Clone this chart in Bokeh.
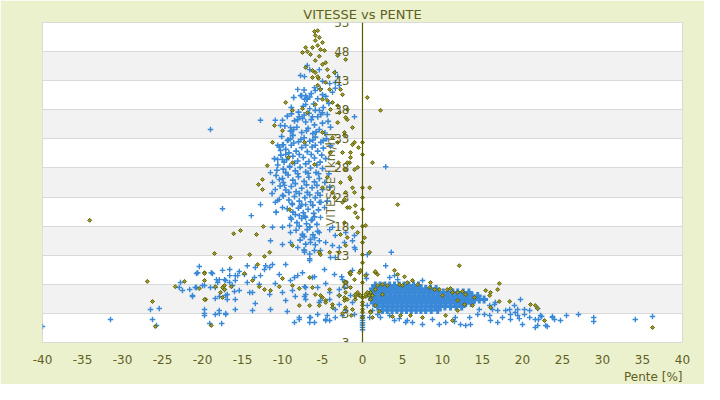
import math
from bokeh.plotting import figure
from bokeh.models import Range1d, FixedTicker, Label, Title
from bokeh.embed import file_html
from bokeh.resources import INLINE

# ---------------- data (Pente [%], Vitesse [km/h]) ----------------
x_ticks = [-40, -35, -30, -25, -20, -15, -10, -5, 0, 5, 10, 15, 20, 25, 30, 35, 40]
y_ticks = [-2, 3, 8, 13, 18, 23, 28, 33, 38, 43, 48, 53]
y_tick_labels = ["3", "3", "8", "13", "18", "23", "28", "33", "38", "43", "48", "53"]

# blue series, scattered points
blue_sparse = [
    (-6.9, 45.6), (-6.6, 44.9), (-7.75, 43.9), (-7.25, 43.7), (-5.4, 44.9), (-3.4, 44.4),
    (-3.1, 43.7), (-3.4, 42.7), (-5.0, 42.9), (-6.0, 41.8), (-5.9, 41.3), (-4.1, 42.5),
    (-3.75, 41.0), (-8.1, 41.5), (-7.75, 40.45), (-7.25, 39.8), (-7.1, 38.9), (-6.6, 38.2),
    (-5.4, 37.9), (-5.0, 37.5), (-6.25, 36.8), (-1.0, 36.8), (-10.0, 36.2), (-7.5, 36.5),
    (-3.4, 41.7), (-2.9, 42.2), (-7.1, 40.45), (-6.9, 39.8),
    (-12.75, 36.2), (-19.0, 34.6), (-10.9, 36.2), (-10.25, 35.3), (-9.0, 34.95), (-8.9, 34.4),
    (-8.75, 33.6), (-9.4, 32.7), (-10.0, 32.0), (-10.6, 31.9), (-10.25, 31.0), (-9.6, 30.3),
    (-10.0, 29.45), (-10.6, 29.45), (-9.1, 28.1), (-9.6, 27.2), (-10.4, 26.0), (-11.25, 25.5),
    (-11.5, 27.2), (-9.75, 25.0), (-10.9, 24.3), (-10.0, 23.3), (-10.6, 22.4),
    (-17.5, 21.0), (-13.9, 19.8), (-12.75, 21.7), (-10.4, 22.6), (-10.9, 22.1), (-10.0, 21.2),
    (-8.75, 21.7), (-7.75, 21.4), (-7.1, 21.7), (-6.25, 21.55), (-5.4, 22.1), (-4.75, 21.2),
    (-9.0, 19.5), (-7.9, 19.8), (-7.1, 19.5), (-6.25, 19.1), (-5.25, 19.5), (-11.25, 17.8),
    (-10.0, 17.8), (-9.1, 18.1), (-9.0, 16.9), (-7.5, 16.4), (-6.6, 17.8), (-5.4, 16.9),
    (-4.1, 17.4), (-3.75, 17.8), (-3.4, 16.4), (-2.1, 16.9), (-1.0, 16.4), (-11.5, 15.5),
    (-10.0, 14.85), (-9.0, 15.2), (-8.1, 14.33), (-7.25, 13.8), (-6.5, 15.2), (-5.4, 15.5),
    (-4.6, 15.2), (-3.75, 14.67), (-2.9, 14.33), (-2.25, 15.2), (-1.25, 15.5), (-1.0, 14.33),
    (-7.25, 13.5), (-6.6, 12.1), (-5.25, 13.8), (-4.0, 12.6), (-3.4, 12.6), (-0.9, 14.0),
    (-20.4, 11.06), (-18.9, 10.0), (-20.6, 10.0), (-17.5, 10.4), (-16.6, 10.55), (-15.4, 10.2),
    (-14.4, 11.2), (-13.4, 10.9), (-12.25, 10.55), (-11.6, 10.9), (-11.25, 11.4), (-12.1, 11.2),
    (-9.6, 11.4), (-16.6, 9.5), (-15.6, 9.5), (-14.75, 9.7), (-13.5, 9.17), (-12.75, 9.5),
    (-10.4, 9.7), (-8.1, 9.5), (-6.25, 9.17), (-4.75, 10.55), (-3.5, 9.7), (-2.5, 8.8),
    (-17.9, 8.8), (-17.1, 8.66), (-15.9, 8.66), (-14.4, 8.3), (-12.9, 8.0), (-10.9, 8.14),
    (-9.0, 8.66), (-7.25, 7.6), (-5.6, 7.45), (-22.75, 8.3), (-21.6, 7.1), (-20.9, 7.45),
    (-19.75, 7.8), (-18.4, 7.45), (-17.25, 7.1), (-16.0, 6.77), (-15.4, 6.94), (-13.75, 6.6),
    (-11.6, 6.25), (-10.0, 6.6), (-8.75, 6.94), (-7.1, 6.25), (-4.1, 6.6), (-2.9, 7.1),
    (-21.25, 5.9), (-18.4, 5.56), (-17.1, 6.08), (-15.9, 5.39), (-14.1, 6.6), (-13.4, 4.7),
    (-9.6, 5.22), (-8.4, 5.9), (-7.1, 5.39), (-5.4, 4.88), (-4.1, 5.39), (-2.9, 4.53),
    (-19.75, 3.67), (-19.75, 3.0), (-17.9, 3.0), (-15.9, 3.67), (-13.75, 3.5), (-11.5, 3.67),
    (-9.4, 3.33), (-7.9, 2.3), (-6.6, 2.3), (-4.6, 1.95), (-3.4, 2.3), (-17.1, 2.8), (-18.4, 2.8),
    (-40.0, 0.75), (-31.5, 1.95), (-26.5, 3.67), (-25.4, 3.84), (-26.25, 1.95), (-25.75, 0.92),
    (-22.9, 7.45), (-22.5, 6.94), (-21.25, 6.08), (-20.75, 7.45), (-20.0, 7.8), (-19.0, 7.45),
    (-18.75, 9.86), (-20.75, 9.86), (-18.25, 8.8), (-18.1, 8.3), (-17.25, 8.8), (-16.6, 8.3),
    (-16.25, 7.8), (-15.9, 9.5), (-17.9, 5.9), (-16.9, 6.25), (-16.9, 5.39), (-17.1, 3.0),
    (-17.9, 3.5), (-19.75, 2.64), (-19.1, 1.27), (-17.6, 1.27),
    (-6.6, 12.4), (-7.5, 10.0), (-6.0, 9.3), (-4.6, 8.14), (-2.6, 9.3), (-1.25, 10.4),
    (-8.5, 9.17), (-7.1, 7.45), (-7.25, 5.9), (-5.25, 5.22), (-2.25, 7.45), (-1.5, 6.08),
    (-1.25, 4.88), (-3.4, 3.67), (-4.4, 2.64), (-5.6, 2.8), (-6.5, 2.3), (-7.9, 1.95),
    (-8.5, 1.44), (-6.6, 1.44), (-6.0, 1.44), (-4.6, 1.78), (-4.1, 1.78), (-2.5, 2.64),
    (-2.1, 3.5), (-1.0, 2.8), (0.9, 2.3), (0.5, 9.7), (0.5, 9.0), (-2.9, 6.08),
    (0.0, 0.2), (0.0, 0.6), (0.0, 1.0), (0.0, 1.4), (0.0, 1.8), (0.0, 2.2), (0.0, 2.6),
    (2.9, 28.2),
    (0.6, 13.1), (3.6, 13.5), (2.9, 11.2), (3.4, 9.17), (4.0, 9.5), (4.4, 8.8), (7.5, 8.66),
    (0.6, 4.36), (1.25, 3.5), (1.9, 2.8), (2.25, 2.3), (3.4, 2.64), (4.0, 1.78), (4.6, 2.1),
    (5.4, 1.44), (6.25, 1.44), (5.6, 1.78), (7.5, 1.1), (8.75, 1.95), (9.6, 1.1), (10.4, 1.44),
    (11.5, 1.6), (12.25, 1.1), (12.9, 0.92), (13.5, 1.1), (11.6, 2.3), (13.4, 2.3), (14.1, 5.22),
    (14.4, 2.8), (14.6, 3.67), (15.25, 2.8), (15.9, 2.64), (16.25, 3.67), (15.9, 4.36),
    (16.5, 4.53), (16.6, 4.88), (16.9, 3.5), (17.5, 2.3), (17.9, 3.5), (18.4, 3.67), (18.5, 2.8),
    (19.0, 4.36), (19.4, 3.67), (19.75, 5.39), (20.25, 3.67), (20.9, 3.5), (21.6, 1.95),
    (22.25, 2.64), (23.75, 2.3), (24.0, 1.95), (24.75, 1.78), (20.0, 1.1), (21.6, 0.58),
    (22.9, 0.92), (16.0, 1.78), (16.9, 1.44), (18.5, 1.95), (19.1, 3.16), (20.25, 2.8),
    (19.4, 2.64), (19.6, 2.1), (20.9, 2.3), (21.9, 3.84), (22.0, 1.95), (22.4, 2.47),
    (21.9, 0.92), (23.1, 0.75), (23.75, 2.47), (25.5, 2.64), (27.0, 2.8), (28.9, 2.3),
    (28.9, 1.6), (34.1, 1.95), (36.25, 2.47), (42.9, 0.58),
]

# blue series, dense core of the downhill cloud
blue_core = [
    (-7.3, 41.4), (-6.4, 40.8), (-5.3, 41.6), (-4.6, 40.3), (-8.6, 40.1), (-7.0, 39.9),
    (-6.1, 39.0), (-5.6, 39.9), (-4.2, 39.1), (-8.9, 38.4), (-8.0, 37.6), (-7.4, 38.6),
    (-6.7, 37.4), (-5.9, 37.9), (-4.9, 38.4), (-4.4, 37.2),
    (-9.4, 36.9), (-8.5, 36.1), (-7.9, 36.8), (-7.1, 35.9), (-6.4, 36.3), (-5.6, 36.8),
    (-5.0, 35.7), (-4.3, 36.0),
    (-9.7, 35.2), (-9.0, 34.3), (-8.2, 35.0), (-7.6, 34.1), (-6.8, 34.8), (-6.2, 33.9),
    (-5.4, 34.6), (-4.7, 34.0),
    (-10.1, 33.4), (-9.3, 32.8), (-8.7, 33.6), (-8.0, 32.5), (-7.3, 33.2), (-6.6, 32.6),
    (-5.9, 33.3), (-5.2, 32.4), (-4.5, 33.0),
    (-10.4, 31.6), (-9.6, 31.2), (-8.9, 31.9), (-8.3, 30.9), (-7.6, 31.5), (-6.9, 30.8),
    (-6.3, 31.6), (-5.6, 30.9), (-4.9, 31.4),
    (-10.2, 30.2), (-9.5, 29.4), (-8.7, 30.0), (-8.1, 29.2), (-7.4, 29.8), (-6.7, 29.1),
    (-6.0, 29.7), (-5.3, 29.0), (-4.6, 29.6),
    (-10.6, 28.5), (-9.9, 27.8), (-9.1, 28.3), (-8.4, 27.5), (-7.8, 28.1), (-7.1, 27.3),
    (-6.5, 28.0), (-5.8, 27.2), (-5.0, 27.9),
    (-10.8, 26.7), (-10.0, 26.2), (-9.3, 26.8), (-8.7, 25.9), (-8.0, 26.5), (-7.3, 25.7),
    (-6.7, 26.4), (-6.0, 25.6), (-5.4, 26.2), (-4.7, 25.5),
    (-10.3, 24.9), (-9.6, 24.2), (-8.9, 24.8), (-8.3, 23.9), (-7.6, 24.5), (-6.9, 23.8),
    (-6.3, 24.6), (-5.6, 23.7), (-5.0, 24.3),
    (-9.9, 23.2), (-9.2, 22.5), (-8.5, 23.1), (-7.9, 22.3), (-7.2, 22.9), (-6.5, 22.2),
    (-5.9, 22.9), (-5.2, 22.1),
    (-9.4, 21.0), (-8.7, 20.4), (-8.0, 21.1), (-7.4, 20.3), (-6.8, 20.9), (-6.1, 20.2),
    (-5.5, 20.8),
    (-8.9, 19.2), (-8.2, 18.6), (-7.6, 19.3), (-7.0, 18.4), (-6.4, 19.0), (-5.7, 18.3),
    (-8.3, 17.3), (-7.5, 16.6), (-6.9, 17.4), (-6.2, 16.5), (-5.6, 17.1),
    (-7.8, 15.6), (-7.1, 14.9), (-6.5, 15.7), (-5.9, 14.8),
    (-7.3, 13.9), (-6.6, 13.2), (-6.0, 13.8),
    (-8.1, 36.3), (-6.0, 35.4), (-7.3, 37.1), (-5.2, 37.2), (-8.6, 34.6), (-7.0, 34.4),
    (-5.8, 34.2), (-9.0, 33.0), (-7.7, 32.9), (-6.2, 32.8), (-4.9, 32.7), (-9.9, 32.0),
    (-8.6, 32.3), (-7.1, 31.9), (-5.9, 31.9), (-9.2, 30.6), (-7.9, 30.3), (-6.4, 30.3),
    (-5.1, 30.2), (-9.8, 29.0), (-8.5, 28.8), (-7.1, 28.7), (-5.7, 28.5), (-9.6, 27.2),
    (-8.1, 27.0), (-6.8, 27.1), (-5.5, 27.0), (-9.9, 25.5), (-8.4, 25.3), (-7.0, 25.1),
    (-5.7, 25.0), (-9.2, 23.8), (-7.9, 23.6), (-6.6, 23.4), (-5.3, 23.3), (-8.8, 21.9),
    (-7.6, 21.7), (-6.2, 21.6), (-8.4, 20.0), (-7.2, 19.7), (-6.0, 19.6), (-7.9, 18.0),
    (-6.6, 17.9), (-7.3, 16.2), (-6.0, 16.0), (-8.9, 37.3), (-7.6, 40.4), (-6.6, 40.2),
    (-5.0, 40.6), (-10.7, 27.6), (-11.0, 29.6), (-11.3, 23.6), (-10.8, 20.4), (-4.2, 27.0),
    (-4.0, 31.8), (-4.1, 24.7), (-4.4, 22.3), (-4.0, 35.0),
]

# blue series, dense uphill blob (rows: speed, list of slopes)
blue_blob_rows = [
    (7.8, [1.6, 2.2, 2.8, 3.4, 4.0, 4.6, 5.2, 5.8, 6.4, 7.0]),
    (7.2, [1.3, 1.9, 2.5, 3.1, 3.7, 4.3, 4.9, 5.5, 6.1, 6.7, 7.3, 7.9, 8.5, 9.2]),
    (6.6, [1.1, 1.7, 2.3, 2.9, 3.5, 4.1, 4.7, 5.3, 5.9, 6.5, 7.1, 7.7, 8.3, 8.9, 9.5, 10.1,
           10.7, 11.3, 11.9, 12.6, 13.3]),
    (6.0, [1.0, 1.6, 2.2, 2.8, 3.4, 4.0, 4.6, 5.2, 5.8, 6.4, 7.0, 7.6, 8.2, 8.8, 9.4, 10.0,
           10.6, 11.2, 11.8, 12.4, 13.0, 13.7, 14.4]),
    (5.4, [1.2, 1.8, 2.4, 3.0, 3.6, 4.2, 4.8, 5.4, 6.0, 6.6, 7.2, 7.8, 8.4, 9.0, 9.6, 10.2,
           10.8, 11.4, 12.0, 12.6, 13.2, 13.9, 14.6, 15.2]),
    (4.8, [1.4, 2.0, 2.6, 3.2, 3.8, 4.4, 5.0, 5.6, 6.2, 6.8, 7.4, 8.0, 8.6, 9.2, 9.8, 10.4,
           11.0, 11.6, 12.2, 12.9, 13.6]),
    (4.2, [1.9, 2.5, 3.1, 3.7, 4.3, 4.9, 5.5, 6.1, 6.7, 7.3, 7.9, 8.5, 9.1, 9.7, 10.3, 11.0,
           11.7, 12.4]),
    (3.6, [2.5, 3.1, 3.7, 4.3, 4.9, 5.5, 6.1, 6.7, 7.3, 7.9, 8.6, 9.4]),
]

# olive series
olive_pts = [
    (-6.0, 51.45), (-5.6, 51.6), (-5.9, 50.77), (-5.4, 50.42), (-5.9, 49.9), (-5.0, 49.56),
    (-7.1, 48.7), (-6.25, 48.7), (-5.6, 49.05), (-5.25, 48.36), (-4.75, 48.19), (-7.5, 47.84),
    (-6.9, 48.0), (-3.1, 47.33), (-2.1, 46.64), (-5.9, 46.47), (-4.6, 46.1), (-5.0, 45.8),
    (-7.1, 45.27), (-6.25, 44.75), (-5.9, 44.4), (-4.4, 44.9), (-3.5, 44.4), (-6.25, 43.55),
    (-5.6, 42.2), (-5.25, 41.5), (-2.75, 41.5), (-9.6, 39.25), (0.6, 40.1), (2.25, 37.9),
    (-5.0, 39.8), (-4.4, 39.6), (-3.75, 39.25), (-3.1, 38.7), (-8.75, 37.9), (-7.5, 38.2),
    (-6.9, 37.5), (-5.9, 38.9), (-4.0, 38.05), (-2.9, 37.5), (-1.9, 36.3),
    (-6.5, 47.5), (-5.4, 47.2), (-4.25, 43.7), (-5.5, 43.4),
    (-11.0, 35.3), (-5.6, 43.7), (-4.6, 42.7), (-4.1, 41.5), (-2.5, 40.6), (-1.9, 38.05),
    (-2.1, 36.67), (-1.25, 32.0), (-0.5, 31.5), (-1.5, 30.65), (-1.6, 28.9), (-2.1, 27.7),
    (-1.0, 27.7), (-1.5, 26.0), (0.9, 24.6), (-1.0, 23.8), (-2.1, 23.8), (-11.9, 28.4),
    (-12.5, 26.0), (-13.0, 25.15), (-12.5, 24.3), (1.25, 28.9),
    (-7.25, 32.4), (-5.0, 34.1), (-4.0, 30.65), (-3.1, 32.4), (-6.0, 28.6), (-4.4, 26.4),
    (-3.0, 28.9), (-2.75, 25.5), (-3.75, 23.8), (-2.5, 22.1), (-5.0, 24.6), (-3.1, 35.8),
    (-2.25, 34.1), (-10.0, 34.4), (-11.25, 32.4), (-9.25, 29.8), (-3.75, 33.2), (-8.75, 28.9),
    (-2.5, 30.65), (-1.9, 28.9), (-1.25, 34.95), (-1.6, 26.4),
    (-2.25, 33.6), (-1.0, 32.4), (-1.5, 29.8), (-0.6, 28.1), (-1.25, 24.6), (-1.9, 21.2),
    (-0.9, 20.3), (-2.25, 18.6), (-1.25, 17.8), (-0.6, 16.9), (0.25, 16.0),
    (-23.4, 7.6), (-22.25, 8.5), (-19.75, 10.0), (-18.4, 7.6), (-17.75, 6.6), (-17.25, 7.1),
    (-17.5, 5.73), (-19.6, 5.39), (-16.1, 16.7), (-15.25, 17.25), (-18.5, 13.3), (-16.5, 12.6),
    (-14.1, 13.1), (-13.25, 16.56), (-12.4, 17.94), (-11.6, 13.5), (-12.25, 12.8), (-13.1, 11.4),
    (-14.75, 9.86), (-13.75, 8.66), (-12.9, 7.6), (-12.25, 7.1), (-11.5, 6.94), (-10.4, 7.6),
    (-8.75, 7.8), (-10.0, 9.0), (-6.6, 9.17), (-5.9, 6.25), (-5.0, 5.73), (-4.6, 5.22),
    (-3.75, 4.53), (-7.9, 4.36), (-6.6, 4.36), (-5.4, 4.36), (-4.1, 7.1), (-2.9, 6.08),
    (-2.25, 5.22), (-2.1, 6.6), (-1.5, 7.45), (-0.6, 6.6), (-5.25, 13.1), (-4.1, 13.5),
    (-2.9, 13.5), (-2.1, 14.67), (-1.9, 16.05), (-2.75, 16.56), (-0.6, 19.5), (0.4, 18.1),
    (0.9, 13.5), (1.0, 6.6), (-0.4, 10.0), (-1.6, 10.0), (-3.5, 22.9), (-2.25, 22.6),
    (-1.6, 21.2), (-0.9, 21.55), (-9.1, 20.86), (-8.75, 14.67), (-5.4, 13.5), (-0.9, 5.39),
    (-1.5, 9.7), (-1.0, 8.8), (-2.25, 5.73), (-1.9, 5.39), (-0.9, 5.9), (-0.4, 6.08),
    (0.4, 5.9), (0.9, 6.08), (1.25, 6.08), (-2.1, 8.3), (-2.1, 4.0), (-1.25, 3.67),
    (-1.4, 2.64), (1.6, 4.36), (1.25, 2.3), (1.0, 3.33), (-7.9, 7.28), (-6.25, 7.45),
    (-5.25, 6.08), (-4.6, 4.88), (-3.75, 4.0), (-2.5, 3.0), (-1.5, 10.03), (-0.25, 10.4),
    (0.4, 9.5), (-0.9, 6.25), (-0.25, 6.08), (1.0, 3.16), (0.6, 6.6), (1.6, 10.03), (1.9, 9.7),
    (0.0, 32.4), (0.0, 30.3), (0.0, 24.6), (0.0, 22.9), (0.0, 20.9), (0.0, 18.0), (0.0, 15.2),
    (0.0, 13.1), (0.0, 11.7), (0.0, 8.3), (0.0, 5.7), (0.0, 4.9), (0.0, 4.4), (0.0, 3.7),
    (0.0, 3.2), (0.0, 2.3),
    (-26.9, 8.5), (-26.25, 5.05), (-25.9, 0.75), (-20.4, 7.28), (-19.75, 8.66), (-19.75, 5.39),
    (-18.9, 0.92), (-17.5, 7.45), (-17.25, 7.8), (-16.4, 7.6), (-19.75, 9.86), (-34.1, 19.0),
    (12.1, 11.2), (1.6, 10.2), (4.0, 10.4), (4.4, 9.7), (5.25, 9.3), (8.5, 8.3), (9.6, 7.1),
    (10.6, 7.1), (11.0, 7.28), (11.25, 6.6), (12.5, 6.77), (12.9, 6.25), (14.0, 5.73),
    (15.4, 6.94), (16.0, 6.6), (17.1, 8.14), (16.9, 7.1), (15.9, 6.08), (17.1, 5.05),
    (18.4, 5.05), (21.0, 4.53), (21.6, 4.36), (21.9, 3.84), (22.75, 1.78), (16.0, 4.02),
    (12.75, 4.53), (11.9, 3.5), (11.25, 1.78), (10.4, 2.64), (7.5, 2.3), (6.0, 2.64),
    (4.75, 2.64), (3.75, 2.47), (2.1, 3.33), (1.9, 7.8), (2.5, 7.97), (3.1, 7.8), (4.6, 7.97),
    (5.0, 7.8), (5.6, 8.3), (6.25, 8.66), (6.9, 7.97), (0.4, 6.25), (1.6, 7.1), (1.0, 5.39),
    (2.5, 6.25), (9.0, 7.1), (10.0, 6.08), (11.9, 5.22), (13.75, 4.36), (36.25, 0.58),
    (8.4, 7.45), (11.9, 6.6), (4.4, 21.7),
]

# ---------------- styles ----------------
BG = "#EBF0CD"
TXT = "#5f5f1e"
FONT = "DejaVu Sans"
BLUE = "#3a89d8"

p = figure(width=704, height=384, output_backend="svg", toolbar_location=None,
           x_range=Range1d(-40, 40), y_range=Range1d(-2, 53),
           min_border_left=42, min_border_right=22, min_border_top=22, min_border_bottom=42)
p.background_fill_color = "white"
p.border_fill_color = BG
p.outline_line_color = "#d9d9d9"

p.title.text = "VITESSE vs PENTE"
p.title.align = "center"
p.title.text_font = FONT
p.title.text_font_size = "13px"
p.title.text_font_style = "normal"
p.title.text_color = TXT
p.title.standoff = 2

# axes
p.xaxis.ticker = FixedTicker(ticks=x_ticks)
p.xaxis.major_label_overrides = {t: str(t) for t in x_ticks}
p.xaxis.axis_line_color = None
p.xaxis.major_tick_line_color = None
p.xaxis.minor_tick_line_color = None
p.xaxis.major_label_standoff = 6
p.xaxis.major_label_text_font = FONT
p.xaxis.major_label_text_font_size = "12px"
p.xaxis.major_label_text_color = TXT

p.yaxis.ticker = FixedTicker(ticks=y_ticks)
p.yaxis.major_label_overrides = {t: s for t, s in zip(y_ticks, y_tick_labels)}
p.yaxis.fixed_location = 0
p.yaxis.axis_line_color = "#5a5a00"
p.yaxis.axis_line_width = 1.2
p.yaxis.major_tick_line_color = None
p.yaxis.minor_tick_line_color = None
p.yaxis.major_label_standoff = 7
p.yaxis.major_label_text_font = FONT
p.yaxis.major_label_text_font_size = "12px"
p.yaxis.major_label_text_color = TXT

p.xgrid.grid_line_color = None
p.ygrid.grid_line_color = "#d9d9d9"
p.ygrid.band_fill_color = "#f2f2f2"
p.ygrid.band_fill_alpha = 1.0

p.add_layout(Title(text="Pente [%]", align="right", text_font=FONT, text_font_size="12px",
                   text_font_style="normal", text_color=TXT, standoff=2), "below")

lbl = Label(x=-4.0, y=26.0, text="VITESSE [km/h]", angle=math.pi / 2,
            text_align="center", text_baseline="middle", text_font=FONT,
            text_font_size="12px", text_color=TXT, text_alpha=0.9)
p.add_layout(lbl)

# glyphs
bx = [a for a, b in blue_sparse]
by = [b for a, b in blue_sparse]
p.scatter(bx, by, marker="cross", size=5.5, line_color=BLUE, line_width=1.4)

cx = [a for a, b in blue_core]
cy = [b for a, b in blue_core]
p.scatter(cx, cy, marker="cross", size=6, line_color=BLUE, line_width=1.6)

blob_x = [x for yv, xs in blue_blob_rows for x in xs]
blob_y = [yv for yv, xs in blue_blob_rows for x in xs]
p.scatter(blob_x, blob_y, marker="cross", size=8, line_color=BLUE, line_width=3)

ox = [a for a, b in olive_pts]
oy = [b for a, b in olive_pts]
p.scatter(ox, oy, marker="square", angle=math.pi / 4, size=2.8,
          fill_color="#9a9a2a", line_color="#585800", line_width=0.9)

open("out.html", "w").write(file_html(p, INLINE))
